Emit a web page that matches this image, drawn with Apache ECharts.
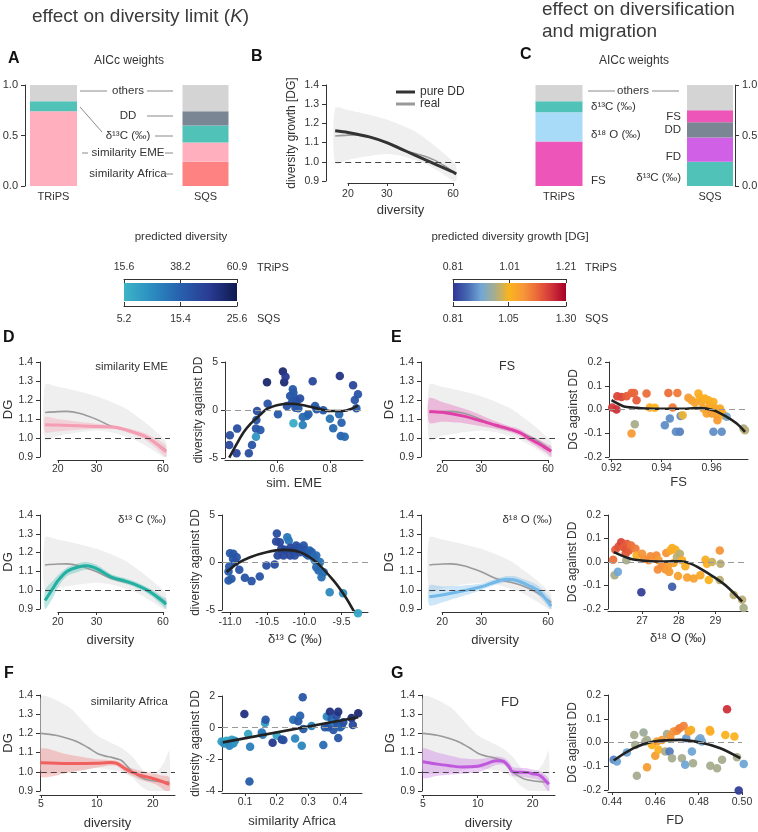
<!DOCTYPE html>
<html>
<head>
<meta charset="utf-8">
<script src="https://cdn.jsdelivr.net/npm/echarts@6/dist/echarts.min.js"></script>
<style>
html, body { margin: 0; padding: 0; background: #fff; }
#main { width: 758px; height: 832px; }
</style>
</head>
<body>
<div id="main"></div>
<script>
var FONT = '"Liberation Sans", Arial, Helvetica, sans-serif';
var TXT = '#333';

// ---------- data ----------
var barCats = ['TRiPS', 'SQS'];
// A: AICc weights (bottom -> top)
var aTripsVars = ['EME', 'd13C', 'others'];
var aTripsW = [0.74, 0.10, 0.16];
var aSqsVars = ['Africa', 'EME', 'd13C', 'DD', 'others'];
var aSqsW = [0.24, 0.19, 0.17, 0.14, 0.26];
// C: AICc weights (bottom -> top)
var cTripsVars = ['FS', 'd18O', 'd13C', 'others'];
var cTripsW = [0.44, 0.29, 0.11, 0.16];
var cSqsVars = ['d13C', 'FD', 'DD', 'FS', 'others'];
var cSqsW = [0.24, 0.24, 0.15, 0.12, 0.25];

// colour bar ticks
var cbDivTrips = [15.6, 38.2, 60.9];
var cbDivSqs = [5.2, 15.4, 25.6];
var cbDgTrips = [0.81, 1.01, 1.21];
var cbDgSqs = [0.81, 1.05, 1.30];

// B: pure DD and real model (TRiPS)
var ddX = [17.5, 20, 25, 30, 35, 40, 45, 50, 55, 60, 62];
var ddY = [1.162, 1.153, 1.13, 1.10, 1.066, 1.036, 1.01, 0.987, 0.966, 0.947, 0.937];
var realX = [17.5, 20, 22, 25, 30, 35, 40, 45, 50, 55, 60, 62];
var realY = [1.134, 1.139, 1.14, 1.13, 1.098, 1.062, 1.044, 1.028, 1.006, 0.978, 0.948, 0.935];
var grayX = [17.5, 20, 25, 30, 35, 40, 45, 50, 55, 60, 62];
var grayHi = [1.28, 1.27, 1.245, 1.22, 1.19, 1.16, 1.12, 1.08, 1.04, 1.0, 0.98];
var grayLo = [0.99, 1.01, 1.03, 1.04, 1.03, 1.01, 0.99, 0.96, 0.93, 0.90, 0.88];

// D: similarity EME
var emeX = [17.5, 20, 25, 30, 37, 43.6, 50, 56, 62];
var emeY = [1.07, 1.068, 1.064, 1.06, 1.055, 1.032, 1.008, 0.97, 0.927];
var emeHi = [1.11, 1.10, 1.085, 1.075, 1.065, 1.045, 1.025, 0.995, 0.96];
var emeLo = [1.03, 1.035, 1.045, 1.048, 1.045, 1.02, 0.99, 0.945, 0.90];
// D: d13C
var c13X = [17.5, 19, 20, 22, 25, 27, 30, 35, 40, 45, 50, 55, 60, 62];
var c13Y = [0.945, 1.01, 1.05, 1.10, 1.125, 1.13, 1.115, 1.07, 1.05, 1.03, 1.005, 0.975, 0.94, 0.925];
var c13Hi = [1.0, 1.05, 1.08, 1.12, 1.145, 1.15, 1.135, 1.085, 1.065, 1.045, 1.02, 0.995, 0.965, 0.955];
var c13Lo = [0.90, 0.96, 1.015, 1.075, 1.10, 1.11, 1.095, 1.055, 1.035, 1.015, 0.99, 0.955, 0.915, 0.90];
// E: FS
var fsX = [17.5, 20, 25, 30, 35, 40, 45, 50, 55, 60, 62];
var fsY = [1.14, 1.135, 1.115, 1.09, 1.067, 1.048, 1.027, 0.993, 0.967, 0.94, 0.93];
var fsHi = [1.21, 1.19, 1.155, 1.12, 1.087, 1.063, 1.045, 1.013, 0.99, 0.965, 0.958];
var fsLo = [1.08, 1.085, 1.078, 1.062, 1.048, 1.033, 1.01, 0.975, 0.945, 0.915, 0.90];
// E: d18O
var o18X = [17.5, 20, 25, 30, 35, 39, 42, 45, 50, 54, 58, 62];
var o18Y = [0.965, 0.975, 0.997, 1.018, 1.045, 1.058, 1.056, 1.045, 1.02, 1.0, 0.96, 0.915];
var o18Hi = [1.025, 1.02, 1.025, 1.035, 1.06, 1.075, 1.075, 1.065, 1.045, 1.025, 0.99, 0.95];
var o18Lo = [0.92, 0.935, 0.97, 1.0, 1.03, 1.042, 1.04, 1.028, 0.998, 0.975, 0.935, 0.895];
// F/G: real model (SQS)
var sqRealX = [5, 6, 7, 8, 9, 10, 11, 12, 13, 13.5, 14, 15, 16, 17, 18, 20, 22, 24.5];
var sqRealY = [1.20, 1.19, 1.173, 1.153, 1.125, 1.097, 1.083, 1.075, 1.066, 1.06, 1.047, 1.015, 0.99, 0.974, 0.963, 0.953, 0.949, 0.947];
var sqGrayX = [5, 7, 8.5, 10, 12, 13.5, 15.5, 17, 19, 21, 23, 24.5];
var sqGrayHi = [1.39, 1.34, 1.26, 1.19, 1.15, 1.125, 1.08, 1.03, 0.98, 1.0, 1.05, 1.11];
var sqGrayLo = [1.0, 1.0, 1.01, 1.02, 1.01, 1.0, 0.97, 0.93, 0.90, 0.88, 0.87, 0.86];
// F: similarity Africa
var afrX = [5, 7, 10, 11.7, 12.8, 14, 15, 16, 17, 20, 22, 24.5];
var afrY = [1.047, 1.043, 1.044, 1.048, 1.044, 1.02, 1.003, 0.993, 0.982, 0.965, 0.952, 0.935];
var afrHi = [1.12, 1.09, 1.065, 1.062, 1.058, 1.038, 1.022, 1.013, 1.005, 0.992, 0.982, 0.972];
var afrLo = [0.975, 0.995, 1.022, 1.033, 1.03, 1.002, 0.984, 0.972, 0.96, 0.94, 0.92, 0.89];
// G: FD
var fdX = [5, 6, 7, 8.2, 10, 11, 12.6, 14, 15, 15.5, 17, 18.4, 20, 22, 24.5];
var fdY = [1.052, 1.04, 1.032, 1.025, 1.029, 1.04, 1.057, 1.052, 1.02, 1.0, 0.998, 0.997, 0.99, 0.98, 0.935];
var fdHi = [1.12, 1.10, 1.085, 1.07, 1.065, 1.07, 1.08, 1.072, 1.045, 1.025, 1.02, 1.02, 1.012, 1.002, 0.965];
var fdLo = [0.97, 0.98, 0.985, 0.99, 0.998, 1.01, 1.035, 1.035, 1.0, 0.978, 0.975, 0.972, 0.965, 0.955, 0.895];

// scatter points [x, y, predicted value]
var emePts = [[0.42,-3.65,46],[0.4225,-2.64,44],[0.4475,-4.5,46],[0.45,-1.94,44],[0.494,-4.5,44],[0.506,-3.65,42],[0.521,-1.94,42],[0.5225,-1.04,42],[0.525,-0.1,44],[0.521,-2.78,24],[0.5375,-2.08,40],[0.5625,2.9,56],[0.565,0.66,42],[0.604,-0.45,40],[0.6225,4.0,55],[0.6275,2.9,55],[0.6325,3.47,50],[0.6375,0.42,42],[0.65,1.46,42],[0.656,0.76,42],[0.66,2.15,40],[0.6625,1.8,40],[0.665,1.28,40],[0.6675,0.94,40],[0.67,0.24,42],[0.6625,-1.39,18],[0.675,0.94,42],[0.681,0.17,40],[0.6875,1.2,44],[0.6975,-0.73,36],[0.6975,-1.56,30],[0.7125,-0.63,34],[0.719,-0.45,38],[0.735,3.0,46],[0.744,0.42,40],[0.75,0.07,40],[0.775,-0.03,40],[0.8,-0.9,33],[0.8125,-1.9,36],[0.835,-0.45,36],[0.8375,3.54,52],[0.841,-2.7,38],[0.844,-1.32,38],[0.856,-2.78,36],[0.8875,2.57,46],[0.894,1.04,42],[0.906,1.63,42],[0.9,0.17,40]];
var emeFitX = [0.42, 0.45, 0.475, 0.5, 0.525, 0.55, 0.5625, 0.6, 0.65, 0.7, 0.75, 0.8, 0.85, 0.88, 0.906];
var emeFitY = [-4.97, -3.45, -2.3, -1.45, -0.8, -0.15, 0.12, 0.5, 0.65, 0.5, 0.18, -0.1, -0.1, 0.1, 0.45];

var c13Pts = [[-11.02,-1.9,40],[-11.02,-0.95,40],[-11.01,-0.42,40],[-11.0,0.98,40],[-10.98,-1.72,40],[-10.96,0.39,40],[-10.955,0.91,42],[-10.93,0.04,42],[-10.91,0.56,42],[-10.875,-0.77,42],[-10.8,-1.6,42],[-10.71,-1.96,42],[-10.6,-1.47,42],[-10.51,-0.32,44],[-10.4,-0.21,44],[-10.37,3.05,44],[-10.38,2.2,46],[-10.36,0.74,46],[-10.33,2.14,46],[-10.31,1.44,46],[-10.28,0.74,46],[-10.26,1.33,46],[-10.23,2.67,32],[-10.21,2.3,32],[-10.19,0.74,46],[-10.185,1.54,46],[-10.15,1.26,46],[-10.13,0.74,44],[-10.11,1.79,44],[-10.08,1.54,44],[-10.06,1.09,44],[-10.04,1.44,42],[-10.01,1.79,42],[-9.99,1.33,42],[-9.98,0.91,40],[-9.95,0.74,40],[-9.93,1.26,38],[-9.9,1.09,38],[-9.88,0.56,36],[-9.86,0.21,28],[-9.84,0.74,36],[-9.84,-0.49,36],[-9.81,-0.84,36],[-9.79,0.04,34],[-9.77,-1.54,34],[-9.74,-1.02,34],[-9.66,-3.12,28],[-9.48,-3.23,26],[-9.28,-5.33,20]];
var c13FitX = [-11.045, -10.9, -10.73, -10.51, -10.28, -10.06, -9.84, -9.61, -9.45, -9.33];
var c13FitY = [-1.0, -0.1, 0.56, 1.09, 1.33, 1.09, 0.04, -1.89, -3.6, -5.2];

var fsPts = [[0.9203,0.008,1.15],[0.922,0.0,1.16],[0.9223,0.056,1.14],[0.924,0.053,1.14],[0.926,0.056,1.12],[0.928,0.07,1.11],[0.929,0.07,1.11],[0.930,0.039,1.12],[0.9293,-0.062,0.96],[0.928,-0.101,1.05],[0.934,0.067,1.10],[0.9353,0.008,1.02],[0.9373,0.007,1.01],[0.9413,-0.066,0.89],[0.9427,0.07,1.10],[0.9433,-0.038,0.89],[0.9444,0.008,1.09],[0.9457,-0.094,0.89],[0.9463,0.07,1.09],[0.9473,-0.094,0.88],[0.9476,-0.027,0.89],[0.9484,-0.024,1.0],[0.9507,0.049,1.05],[0.952,0.039,1.04],[0.9533,0.028,1.04],[0.9547,0.067,1.02],[0.9553,0.049,1.02],[0.956,0.032,1.03],[0.9567,0.004,1.04],[0.9573,0.046,1.02],[0.958,-0.017,1.04],[0.9587,0.039,1.02],[0.9593,0.018,1.03],[0.96,0.004,1.02],[0.96,-0.017,1.05],[0.9607,0.032,1.02],[0.9613,0.004,1.03],[0.962,-0.024,1.04],[0.9623,-0.045,1.05],[0.9633,0.004,1.03],[0.964,-0.01,1.03],[0.9647,-0.024,1.02],[0.9607,-0.094,0.89],[0.964,-0.094,0.89],[0.966,-0.031,0.92],[0.9727,-0.08,0.96],[0.9733,-0.087,0.97]];
var fsFitX = [0.92, 0.9247, 0.93, 0.934, 0.94, 0.947, 0.955, 0.9607, 0.966, 0.97, 0.9733];
var fsFitY = [0.039, 0.014, 0.007, 0.004, 0.003, 0.003, 0.006, -0.003, -0.031, -0.059, -0.094];

var o18Pts = [[26.21,0.01,1.10],[26.25,-0.056,0.96],[26.34,-0.042,0.91],[26.27,0.052,1.12],[26.36,0.066,1.13],[26.43,0.084,1.14],[26.5,0.063,1.12],[26.55,0.035,1.12],[26.57,0.056,1.13],[26.59,0.077,1.12],[26.64,0.049,1.12],[26.7,0.07,1.10],[26.57,0.007,0.96],[26.82,0.056,1.09],[26.85,0.028,1.02],[27.0,0.035,1.06],[27.05,0.014,1.06],[26.98,-0.129,0.82],[27.18,0.007,1.06],[27.23,0.024,1.07],[27.32,0.014,1.06],[27.39,0.028,1.07],[27.45,0.007,1.05],[27.43,-0.032,1.07],[27.55,-0.014,1.07],[27.64,-0.032,1.06],[27.66,0.038,1.06],[27.7,-0.018,1.05],[27.74,-0.042,1.05],[27.77,0.049,1.03],[27.82,0.06,1.02],[27.86,-0.004,1.04],[27.82,-0.105,0.85],[27.91,0.052,1.02],[27.95,0.021,0.97],[27.98,-0.06,1.04],[28.03,0.035,0.97],[28.09,0.007,1.02],[28.18,-0.018,1.02],[28.23,-0.066,1.04],[28.41,-0.07,1.04],[28.59,-0.056,1.03],[28.73,0.01,1.02],[28.77,-0.007,1.02],[28.82,-0.077,1.01],[28.91,0.0,0.98],[29.12,0.049,1.06],[29.12,-0.077,0.97],[29.14,-0.007,0.97],[29.5,-0.14,0.97],[29.73,-0.161,0.97],[29.77,-0.196,0.96]];
var o18FitX = [26.23, 26.68, 27.14, 27.6, 28.05, 28.32, 28.59, 28.95, 29.32, 29.73];
var o18FitY = [0.042, 0.014, 0.004, 0.002, 0.003, -0.007, -0.028, -0.063, -0.105, -0.168];

var afrPts = [[0.026,-0.87,8],[0.034,-1.0,10],[0.042,-0.82,7],[0.051,-1.14,11],[0.058,-0.76,8],[0.063,-1.0,10],[0.068,-0.82,9],[0.098,0.87,22],[0.11,-0.4,7],[0.116,-1.2,12],[0.114,-3.4,16],[0.153,-0.3,13],[0.156,-0.44,12],[0.163,0.3,8],[0.165,0.5,17],[0.187,-0.95,21],[0.2,-0.5,7],[0.216,-0.74,20],[0.221,-0.78,18],[0.252,0.5,14],[0.258,-0.68,11],[0.268,0.4,16],[0.274,0.76,15],[0.282,1.92,17],[0.279,-1.14,11],[0.284,-0.08,16],[0.31,0.1,11],[0.347,-1.1,14],[0.352,0.02,16],[0.358,0.7,11],[0.363,0.02,17],[0.368,1.0,22],[0.373,0.55,16],[0.379,-0.15,17],[0.382,0.34,12],[0.389,0.76,18],[0.394,1.0,22],[0.391,0.27,17],[0.4,0.02,16],[0.394,-0.65,17],[0.405,0.1,15],[0.41,0.34,18],[0.436,0.61,23],[0.44,0.17,19],[0.457,0.91,23]];
var afrFitX = [0.03, 0.457];
var afrFitY = [-0.93, 0.66];

var fdPts = [[0.4408,-0.073,0.90],[0.4423,-0.08,0.93],[0.4469,-0.042,0.93],[0.4503,0.032,0.99],[0.4508,-0.01,0.99],[0.4515,-0.14,0.99],[0.4546,0.042,0.98],[0.4554,0.004,0.99],[0.4562,0.011,0.99],[0.4562,-0.104,1.10],[0.4585,-0.01,1.06],[0.46,-0.056,1.10],[0.4608,0.004,1.10],[0.4615,-0.031,1.06],[0.4631,0.011,1.10],[0.4646,-0.038,0.99],[0.4654,0.036,0.99],[0.4666,-0.038,0.89],[0.4669,0.025,1.11],[0.4677,-0.066,0.99],[0.4685,0.046,1.12],[0.47,0.05,1.13],[0.4712,0.06,1.15],[0.4723,-0.066,0.99],[0.4731,0.07,1.14],[0.4738,-0.094,0.93],[0.4743,0.018,0.92],[0.4754,0.046,1.10],[0.4765,0.053,1.07],[0.4769,-0.038,0.93],[0.4774,-0.087,0.99],[0.48,0.011,0.93],[0.4808,0.018,0.94],[0.4815,0.004,0.93],[0.4851,0.053,1.07],[0.4854,0.046,1.07],[0.4854,-0.098,0.99],[0.4885,-0.108,0.99],[0.4908,-0.073,0.99],[0.4931,0.14,1.24],[0.4923,0.032,1.06],[0.4965,0.025,1.06],[0.4977,-0.062,0.99],[0.4985,-0.202,0.82],[0.5008,-0.09,0.93]];
var fdFitX = [0.4408, 0.45, 0.4592, 0.4715, 0.4808, 0.49, 0.4992];
var fdFitY = [-0.076, -0.024, 0.004, 0.011, 0.0, -0.024, -0.066];

// ---------- styles ----------
var BAR_COL = {others: '#d4d4d4', DD: '#7a8694', d13C: '#50c2b7', EME: '#ffafbe', Africa: '#ff8282',
               FS: '#ee55b8', d18O: '#a8dbf8', FD: '#d060e6'};
var DIV_COLORS = ['#3cb4c6', '#2b8cc0', '#2760ad', '#2a3c94', '#0e1a4f'];
var DG_COLORS = ['#313695', '#4567b0', '#72a8d6', '#a9ad8a', '#fbb41e', '#f6963a', '#ea663a', '#d0323a', '#a50026'];
var GRAY_BAND = 'rgba(225,225,225,0.55)';

var grids = [], xAxes = [], yAxes = [], series = [], graphics = [];

function lg(v) { return Math.log(v) / Math.LN10; }
function ident(v) { return v; }
function f1(v) { return v.toFixed(1); }
function f2(v) { return v.toFixed(2); }
function fi(v) { return String(Math.round(v)); }

function addGrid(left, top, width, height) {
    grids.push({left: left, top: top, width: width, height: height, containLabel: false, outerBoundsMode: 'none'});
    return grids.length - 1;
}

function axis(o) {
    var a = {
        type: 'value', gridIndex: o.grid, min: o.min, max: o.max, position: o.position,
        offset: o.offset || 0,
        splitLine: {show: false},
        axisLine: {show: o.line !== false, onZero: false, lineStyle: {color: '#333', width: 1}},
        axisTick: {show: o.tick !== false, inside: !!o.inside, length: o.tickLen || 4, lineStyle: {color: '#333', width: 1}},
        axisLabel: {show: true, margin: o.margin == null ? 6 : o.margin, color: TXT, fontSize: o.fs || 10.5,
                    fontFamily: FONT, formatter: o.fmt, showMinLabel: true, showMaxLabel: true},
        name: o.name || '', nameLocation: 'middle', nameGap: o.gap || 20,
        nameTextStyle: {color: TXT, fontSize: o.nfs || 12, fontFamily: FONT}
    };
    if (o.interval != null) a.interval = o.interval;
    if (o.ticks) { a.axisLabel.customValues = o.ticks; a.axisTick.customValues = o.ticks; }
    if (o.hide) a.show = false;
    return a;
}

function rectRender(w, color) {
    return function (params, api) {
        var p0 = api.coord([api.value(0), api.value(1)]);
        var p1 = api.coord([api.value(0), api.value(2)]);
        return {type: 'rect', shape: {x: p0[0] - w / 2, y: p1[1], width: w, height: p0[1] - p1[1]}, style: {fill: color}};
    };
}

function barStack(xi, yi, xPos, vars, weights, w) {
    var base = 0;
    for (var k = 0; k < vars.length; k++) {
        var top = base + weights[k];
        if (weights[k] > 0) {
            series.push({type: 'custom', xAxisIndex: xi, yAxisIndex: yi, silent: true,
                data: [[xPos, base, top]], encode: {x: 0, y: [1, 2]},
                renderItem: rectRender(w, BAR_COL[vars[k]])});
        }
        base = top;
    }
}

function barPanel(gl, gr, top, bottom, x0px, x1px, yPos, trV, trW, sqV, sqW) {
    var unit = x1px - x0px;
    var gi = addGrid(gl, top, gr - gl, bottom - top);
    xAxes.push(axis({grid: gi, min: -(x0px - gl) / unit, max: 1 + (gr - x1px) / unit, position: 'bottom',
        line: false, tick: false, ticks: [0, 1], margin: 5, fs: 11,
        fmt: function (v) { return barCats[Math.round(v)]; }}));
    var xi = xAxes.length - 1;
    yAxes.push(axis({grid: gi, min: 0, max: 1, interval: 0.5, position: yPos, margin: 7, fs: 11, fmt: f1}));
    var yi = yAxes.length - 1;
    barStack(xi, yi, 0, trV, trW, 47);
    barStack(xi, yi, 1, sqV, sqW, 46);
}

function bandSeries(xi, yi, xs, lo, hi, fill, logX) {
    var f = logX ? lg : ident;
    series.push({
        type: 'custom', xAxisIndex: xi, yAxisIndex: yi, silent: true, z: 1,
        data: xs.map(function (x, i) { return [f(x), lo[i], hi[i]]; }),
        encode: {x: 0, y: [1, 2]},
        renderItem: function (params, api) {
            if (params.dataIndex !== 0) return null;
            var up = [], dn = [];
            for (var i = 0; i < xs.length; i++) {
                up.push(api.coord([f(xs[i]), hi[i]]));
                dn.unshift(api.coord([f(xs[i]), lo[i]]));
            }
            var cs = params.coordSys;
            return {type: 'polygon', shape: {points: up.concat(dn), smooth: 0.25}, style: {fill: fill},
                clipPath: {type: 'rect', shape: {x: cs.x, y: cs.y, width: cs.width, height: cs.height}}};
        }
    });
}

function lineSeries(xi, yi, xs, ys, color, width, name, logX, z) {
    var f = logX ? lg : ident;
    var s = {type: 'line', xAxisIndex: xi, yAxisIndex: yi, silent: true, z: z || 3,
        data: xs.map(function (x, i) { return [f(x), ys[i]]; }),
        smooth: 0.3, symbol: 'none', lineStyle: {color: color, width: width}, itemStyle: {color: color}};
    if (name) s.name = name;
    series.push(s);
    return s;
}

function dashAt(s, x0, x1, y, color) {
    s.markLine = {silent: true, symbol: ['none', 'none'], label: {show: false}, animation: false,
        lineStyle: {color: color, type: [6, 4], width: 1.2},
        data: [[{coord: [x0, y]}, {coord: [x1, y]}]]};
}

function dgPanel(p) {
    var gi = addGrid(p.gl, p.top, p.gr - p.gl, p.bottom - p.top);
    var lx0 = lg(p.xmin), lx1 = lg(p.xmax);
    xAxes.push(axis({grid: gi, min: lx0, max: lx1, hide: true}));
    var xi = xAxes.length - 1;
    yAxes.push(axis({grid: gi, min: 0.9, max: 1.4, interval: 0.1, position: 'left', margin: 7, fmt: f1,
        name: p.yName || 'DG', gap: p.yGap || 22, nfs: p.yName ? 12 : 13}));
    var yi = yAxes.length - 1;
    var px = function (v) { return p.gl + (lg(v) - lx0) / (lx1 - lx0) * (p.gr - p.gl); };
    var a0 = px(p.axMin), a1 = px(p.axMax);
    var gi2 = addGrid(a0, p.lineY - 1, a1 - a0, 1);
    xAxes.push(axis({grid: gi2, min: lg(p.axMin), max: lg(p.axMax), position: 'bottom',
        ticks: p.ticks.map(lg), tickLen: 3, margin: p.lm,
        fmt: function (v) { return String(Math.round(Math.pow(10, v))); },
        name: p.xName, gap: p.xGap, nfs: 13}));
    yAxes.push(axis({grid: gi2, min: 0, max: 1, hide: true}));
    return {xi: xi, yi: yi, lx1: lx1};
}

function scPanel(p) {
    var gi = addGrid(p.gl, p.top, p.gr - p.gl, p.bottom - p.top);
    xAxes.push(axis({grid: gi, min: p.xmin, max: p.xmax, position: 'bottom', offset: 2, ticks: p.xticks,
        tickLen: 3, margin: p.lm, fmt: p.xfmt, name: p.xName, gap: p.xGap, nfs: 13}));
    var xi = xAxes.length - 1;
    yAxes.push(axis({grid: gi, min: p.ymin, max: p.ymax, interval: p.yint, position: 'left', margin: 7,
        fmt: p.yfmt, name: p.yName, gap: p.yGap}));
    var yi = yAxes.length - 1;
    var si = series.length;
    series.push({type: 'scatter', xAxisIndex: xi, yAxisIndex: yi, data: p.pts, symbolSize: 8.5,
        clip: false, z: 3, silent: true, itemStyle: {opacity: 0.95},
        markLine: {silent: true, symbol: ['none', 'none'], label: {show: false}, animation: false,
            lineStyle: {color: '#999', type: [6, 4], width: 1.2}, data: [{yAxis: 0}]}});
    lineSeries(xi, yi, p.fitX, p.fitY, '#222', 2.6, null, false, 4);
    return si;
}

function colorBar(left, top, w, h, topVals, botVals, colors, fmt) {
    var gi = addGrid(left, top, w, h);
    xAxes.push(axis({grid: gi, min: topVals[0], max: topVals[2], position: 'top', offset: 4, inside: true,
        tickLen: 4, ticks: topVals, margin: 6, fmt: fmt}));
    xAxes.push(axis({grid: gi, min: botVals[0], max: botVals[2], position: 'bottom', offset: 5, inside: true,
        tickLen: 4, ticks: botVals, margin: 8, fmt: fmt}));
    yAxes.push(axis({grid: gi, min: 0, max: 1, hide: true}));
    graphics.push({type: 'rect', silent: true, shape: {x: left, y: top, width: w, height: h},
        style: {fill: new echarts.graphic.LinearGradient(0, 0, 1, 0, colors.map(function (c, i) {
            return {offset: i / (colors.length - 1), color: c};
        }))}});
}

function txt(x, y, s, o) {
    o = o || {};
    graphics.push({type: 'text', x: x, y: y, silent: true, style: {text: s, fill: o.color || TXT,
        fontSize: o.size || 11.5, fontFamily: FONT, fontWeight: o.bold ? 'bold' : 'normal',
        align: o.align || 'center', verticalAlign: 'middle'}});
}
function seg(x1, y1, x2, y2) {
    graphics.push({type: 'line', silent: true, shape: {x1: x1, y1: y1, x2: x2, y2: y2},
        style: {stroke: '#8a8a8a', lineWidth: 1}});
}

// ---------- A and C ----------
barPanel(25, 230, 85, 186, 53.5, 205.5, 'left', aTripsVars, aTripsW, aSqsVars, aSqsW);
barPanel(520, 735, 85, 186, 559, 710, 'right', cTripsVars, cTripsW, cSqsVars, cSqsW);

// ---------- B ----------
var pb = dgPanel({gl: 326, gr: 460, top: 85, bottom: 181, xmin: 15.9, xmax: 64.5, axMin: 20, axMax: 60,
    ticks: [20, 30, 60], lineY: 183, lm: 6, xName: 'diversity', xGap: 21, yName: 'diversity growth [DG]', yGap: 28});
bandSeries(pb.xi, pb.yi, grayX, grayLo, grayHi, GRAY_BAND, true);
lineSeries(pb.xi, pb.yi, realX, realY, '#9a9a9a', 1.6, 'real', true);
var sB = lineSeries(pb.xi, pb.yi, ddX, ddY, '#333', 3, 'pure DD', true);
dashAt(sB, lg(ddX[0]), pb.lx1, 1.0, '#444');

// ---------- DG panels ----------
function dgFull(p, x, y, lo, hi, color, band, realXs, realYs, gX, gLo, gHi) {
    var q = dgPanel(p);
    bandSeries(q.xi, q.yi, gX, gLo, gHi, GRAY_BAND, true);
    bandSeries(q.xi, q.yi, x, lo, hi, band, true);
    lineSeries(q.xi, q.yi, realXs, realYs, '#9a9a9a', 1.6, null, true);
    var s = lineSeries(q.xi, q.yi, x, y, color, 3, null, true);
    dashAt(s, lg(x[0]), q.lx1, 1.0, '#444');
}

var rowTicks = [20, 30, 60];
dgFull({gl: 40, gr: 170, top: 362, bottom: 457, xmin: 16.6, xmax: 64.6, axMin: 20, axMax: 60, ticks: rowTicks,
        lineY: 460, lm: 4, yGap: 22}, emeX, emeY, emeLo, emeHi, '#f59db2', 'rgba(245,157,178,0.35)',
        realX, realY, grayX, grayLo, grayHi);
dgFull({gl: 421, gr: 555, top: 362, bottom: 457, xmin: 16.06, xmax: 64.5, axMin: 20, axMax: 60, ticks: rowTicks,
        lineY: 460, lm: 4, yGap: 25}, fsX, fsY, fsLo, fsHi, '#e13fa8', 'rgba(225,63,168,0.3)',
        realX, realY, grayX, grayLo, grayHi);
dgFull({gl: 40, gr: 170, top: 515, bottom: 609, xmin: 16.6, xmax: 64.6, axMin: 20, axMax: 60, ticks: rowTicks,
        lineY: 612, lm: 5, xName: 'diversity', xGap: 22, yGap: 22}, c13X, c13Y, c13Lo, c13Hi, '#22b0a3',
        'rgba(34,176,163,0.3)', realX, realY, grayX, grayLo, grayHi);
dgFull({gl: 421, gr: 555, top: 515, bottom: 609, xmin: 16.06, xmax: 64.5, axMin: 20, axMax: 60, ticks: rowTicks,
        lineY: 612, lm: 5, xName: 'diversity', xGap: 22, yGap: 25}, o18X, o18Y, o18Lo, o18Hi, '#72b9ea',
        'rgba(114,185,234,0.35)', realX, realY, grayX, grayLo, grayHi);
dgFull({gl: 40, gr: 175, top: 695, bottom: 791, xmin: 4.95, xmax: 26.3, axMin: 4.95, axMax: 26.3, ticks: [5, 10, 20],
        lineY: 795, lm: 4, xName: 'diversity', xGap: 22, yGap: 22}, afrX, afrY, afrLo, afrHi, '#f0605f',
        'rgba(240,96,95,0.3)', sqRealX, sqRealY, sqGrayX, sqGrayLo, sqGrayHi);
dgFull({gl: 422, gr: 555, top: 695, bottom: 791, xmin: 4.95, xmax: 26.5, axMin: 4.95, axMax: 26.5, ticks: [5, 10, 20],
        lineY: 795, lm: 4, xName: 'diversity', xGap: 22, yGap: 25}, fdX, fdY, fdLo, fdHi, '#bf58dd',
        'rgba(191,88,221,0.3)', sqRealX, sqRealY, sqGrayX, sqGrayLo, sqGrayHi);

// ---------- scatter panels ----------
var sEme = scPanel({gl: 225, gr: 363, top: 362, bottom: 458, xmin: 0.404, xmax: 0.925, xticks: [0.6, 0.8], xfmt: f1,
    lm: 4, xName: 'sim. EME', xGap: 17, ymin: -5, ymax: 5, yint: 5, yfmt: fi, yName: 'diversity against DD', yGap: 20,
    pts: emePts, fitX: emeFitX, fitY: emeFitY});
var sC13 = scPanel({gl: 222, gr: 368, top: 515, bottom: 610, xmin: -11.1075, xmax: -9.145, xticks: [-11, -10.5, -10, -9.5],
    xfmt: f1, lm: 5, xName: 'δ¹³ C (‰)', xGap: 21, ymin: -5, ymax: 5, yint: 5, yfmt: fi, yName: 'diversity against DD',
    yGap: 19, pts: c13Pts, fitX: c13FitX, fitY: c13FitY});
var sFs = scPanel({gl: 609, gr: 748, top: 362, bottom: 457, xmin: 0.919, xmax: 0.9745, xticks: [0.92, 0.94, 0.96],
    xfmt: f2, lm: 4, xName: 'FS', xGap: 17, ymin: -0.2, ymax: 0.2, yint: 0.1, yfmt: f1, yName: 'DG against DD', yGap: 25,
    pts: fsPts, fitX: fsFitX, fitY: fsFitY});
var sO18 = scPanel({gl: 608, gr: 748, top: 515, bottom: 609, xmin: 26.07, xmax: 29.89, xticks: [27, 28, 29], xfmt: fi,
    lm: 5, xName: 'δ¹⁸ O (‰)', xGap: 21, ymin: -0.2, ymax: 0.2, yint: 0.1, yfmt: f1, yName: 'DG against DD', yGap: 25,
    pts: o18Pts, fitX: o18FitX, fitY: o18FitY});
var sAfr = scPanel({gl: 222, gr: 362, top: 696, bottom: 791, xmin: 0.0274, xmax: 0.469, xticks: [0.1, 0.2, 0.3, 0.4],
    xfmt: f1, lm: 4, xName: 'similarity Africa', xGap: 22, ymin: -4, ymax: 2, yint: 2, yfmt: fi,
    yName: 'diversity against DD', yGap: 19, pts: afrPts, fitX: afrFitX, fitY: afrFitY});
var sFd = scPanel({gl: 608, gr: 742, top: 695, bottom: 790, xmin: 0.4382, xmax: 0.5, xticks: [0.44, 0.46, 0.48, 0.5],
    xfmt: f2, lm: 5, xName: 'FD', xGap: 22, ymin: -0.2, ymax: 0.2, yint: 0.1, yfmt: f1, yName: 'DG against DD', yGap: 25,
    pts: fdPts, fitX: fdFitX, fitY: fdFitY});

// ---------- colour bars ----------
colorBar(124, 283, 113, 18, cbDivTrips, cbDivSqs, DIV_COLORS, f1);
colorBar(453, 283, 113, 18, cbDgTrips, cbDgSqs, DG_COLORS, f2);

// ---------- texts ----------
graphics.push({type: 'text', x: 32, y: 17, silent: true, style: {
    text: '{a|effect on diversity limit (}{b|K}{a|)}', verticalAlign: 'middle',
    rich: {a: {fontSize: 19, fontFamily: FONT, fill: '#3a3a3a', color: '#3a3a3a'},
           b: {fontSize: 19, fontFamily: FONT, fontStyle: 'italic', fill: '#3a3a3a', color: '#3a3a3a'}}}});
txt(542, 10, 'effect on diversification', {size: 19, align: 'left', color: '#3a3a3a'});
txt(542, 32, 'and migration', {size: 19, align: 'left', color: '#3a3a3a'});

txt(8, 59, 'A', {size: 16, bold: true, align: 'left', color: '#111'});
txt(251, 57, 'B', {size: 16, bold: true, align: 'left', color: '#111'});
txt(520, 55, 'C', {size: 16, bold: true, align: 'left', color: '#111'});
txt(3, 338, 'D', {size: 16, bold: true, align: 'left', color: '#111'});
txt(391, 338, 'E', {size: 16, bold: true, align: 'left', color: '#111'});
txt(4, 674, 'F', {size: 16, bold: true, align: 'left', color: '#111'});
txt(391, 674, 'G', {size: 16, bold: true, align: 'left', color: '#111'});

txt(129, 61, 'AICc weights', {size: 12});
txt(634, 61, 'AICc weights', {size: 12});

// A labels
txt(128, 91, 'others'); seg(80, 91, 107, 91); seg(147, 91, 173, 91);
txt(128, 116, 'DD'); seg(147, 116, 173, 116);
txt(128, 136, 'δ¹³C (‰)'); seg(155, 136, 173, 136); seg(80, 107, 102, 132);
txt(128, 153, 'similarity EME'); seg(82, 153, 88, 153); seg(165, 153, 173, 153);
txt(128, 174, 'similarity Africa'); seg(165, 174, 173, 174);

// C labels
txt(633, 91, 'others'); seg(588, 91, 615, 91); seg(652, 91, 679, 91);
txt(591, 107, 'δ¹³C (‰)', {align: 'left'});
txt(591, 135, 'δ¹⁸ O (‰)', {align: 'left'});
txt(591, 181, 'FS', {align: 'left'});
txt(681, 117, 'FS', {align: 'right'});
txt(681, 130, 'DD', {align: 'right'});
txt(681, 157, 'FD', {align: 'right'});
txt(681, 178, 'δ¹³C (‰)', {align: 'right'});

// colour bar captions
txt(181, 237, 'predicted diversity', {size: 11.5});
txt(510, 237, 'predicted diversity growth [DG]', {size: 11.5});
txt(257, 268, 'TRiPS', {size: 11, align: 'left'});
txt(257, 319, 'SQS', {size: 11, align: 'left'});
txt(585, 268, 'TRiPS', {size: 11, align: 'left'});
txt(585, 319, 'SQS', {size: 11, align: 'left'});

// panel titles
txt(168, 367, 'similarity EME', {align: 'right'});
txt(166, 520, 'δ¹³ C (‰)', {align: 'right'});
txt(507, 367, 'FS', {size: 12.5});
txt(552, 520, 'δ¹⁸ O (‰)', {align: 'right'});
txt(168, 702, 'similarity Africa', {align: 'right'});
txt(510, 702, 'FD', {size: 13.5});

var myChart = echarts.init(document.getElementById('main'));
myChart.setOption({
    animation: false,
    backgroundColor: '#fff',
    textStyle: {fontFamily: FONT},
    grid: grids,
    xAxis: xAxes,
    yAxis: yAxes,
    visualMap: [
        {type: 'continuous', show: false, seriesIndex: [sEme, sC13], dimension: 2,
         min: cbDivTrips[0], max: cbDivTrips[2], inRange: {color: DIV_COLORS}},
        {type: 'continuous', show: false, seriesIndex: [sAfr], dimension: 2,
         min: cbDivSqs[0], max: cbDivSqs[2], inRange: {color: DIV_COLORS}},
        {type: 'continuous', show: false, seriesIndex: [sFs, sO18], dimension: 2,
         min: cbDgTrips[0], max: cbDgTrips[2], inRange: {color: DG_COLORS}},
        {type: 'continuous', show: false, seriesIndex: [sFd], dimension: 2,
         min: cbDgSqs[0], max: cbDgSqs[2], inRange: {color: DG_COLORS}}
    ],
    legend: {show: true, data: ['pure DD', 'real'], orient: 'vertical', left: 391, top: 81,
        itemWidth: 19, itemHeight: 3, itemGap: 0, icon: 'rect', selectedMode: false,
        textStyle: {fontSize: 12, color: TXT, fontFamily: FONT}},
    series: series,
    graphic: {elements: graphics}
});
</script>
</body>
</html>
